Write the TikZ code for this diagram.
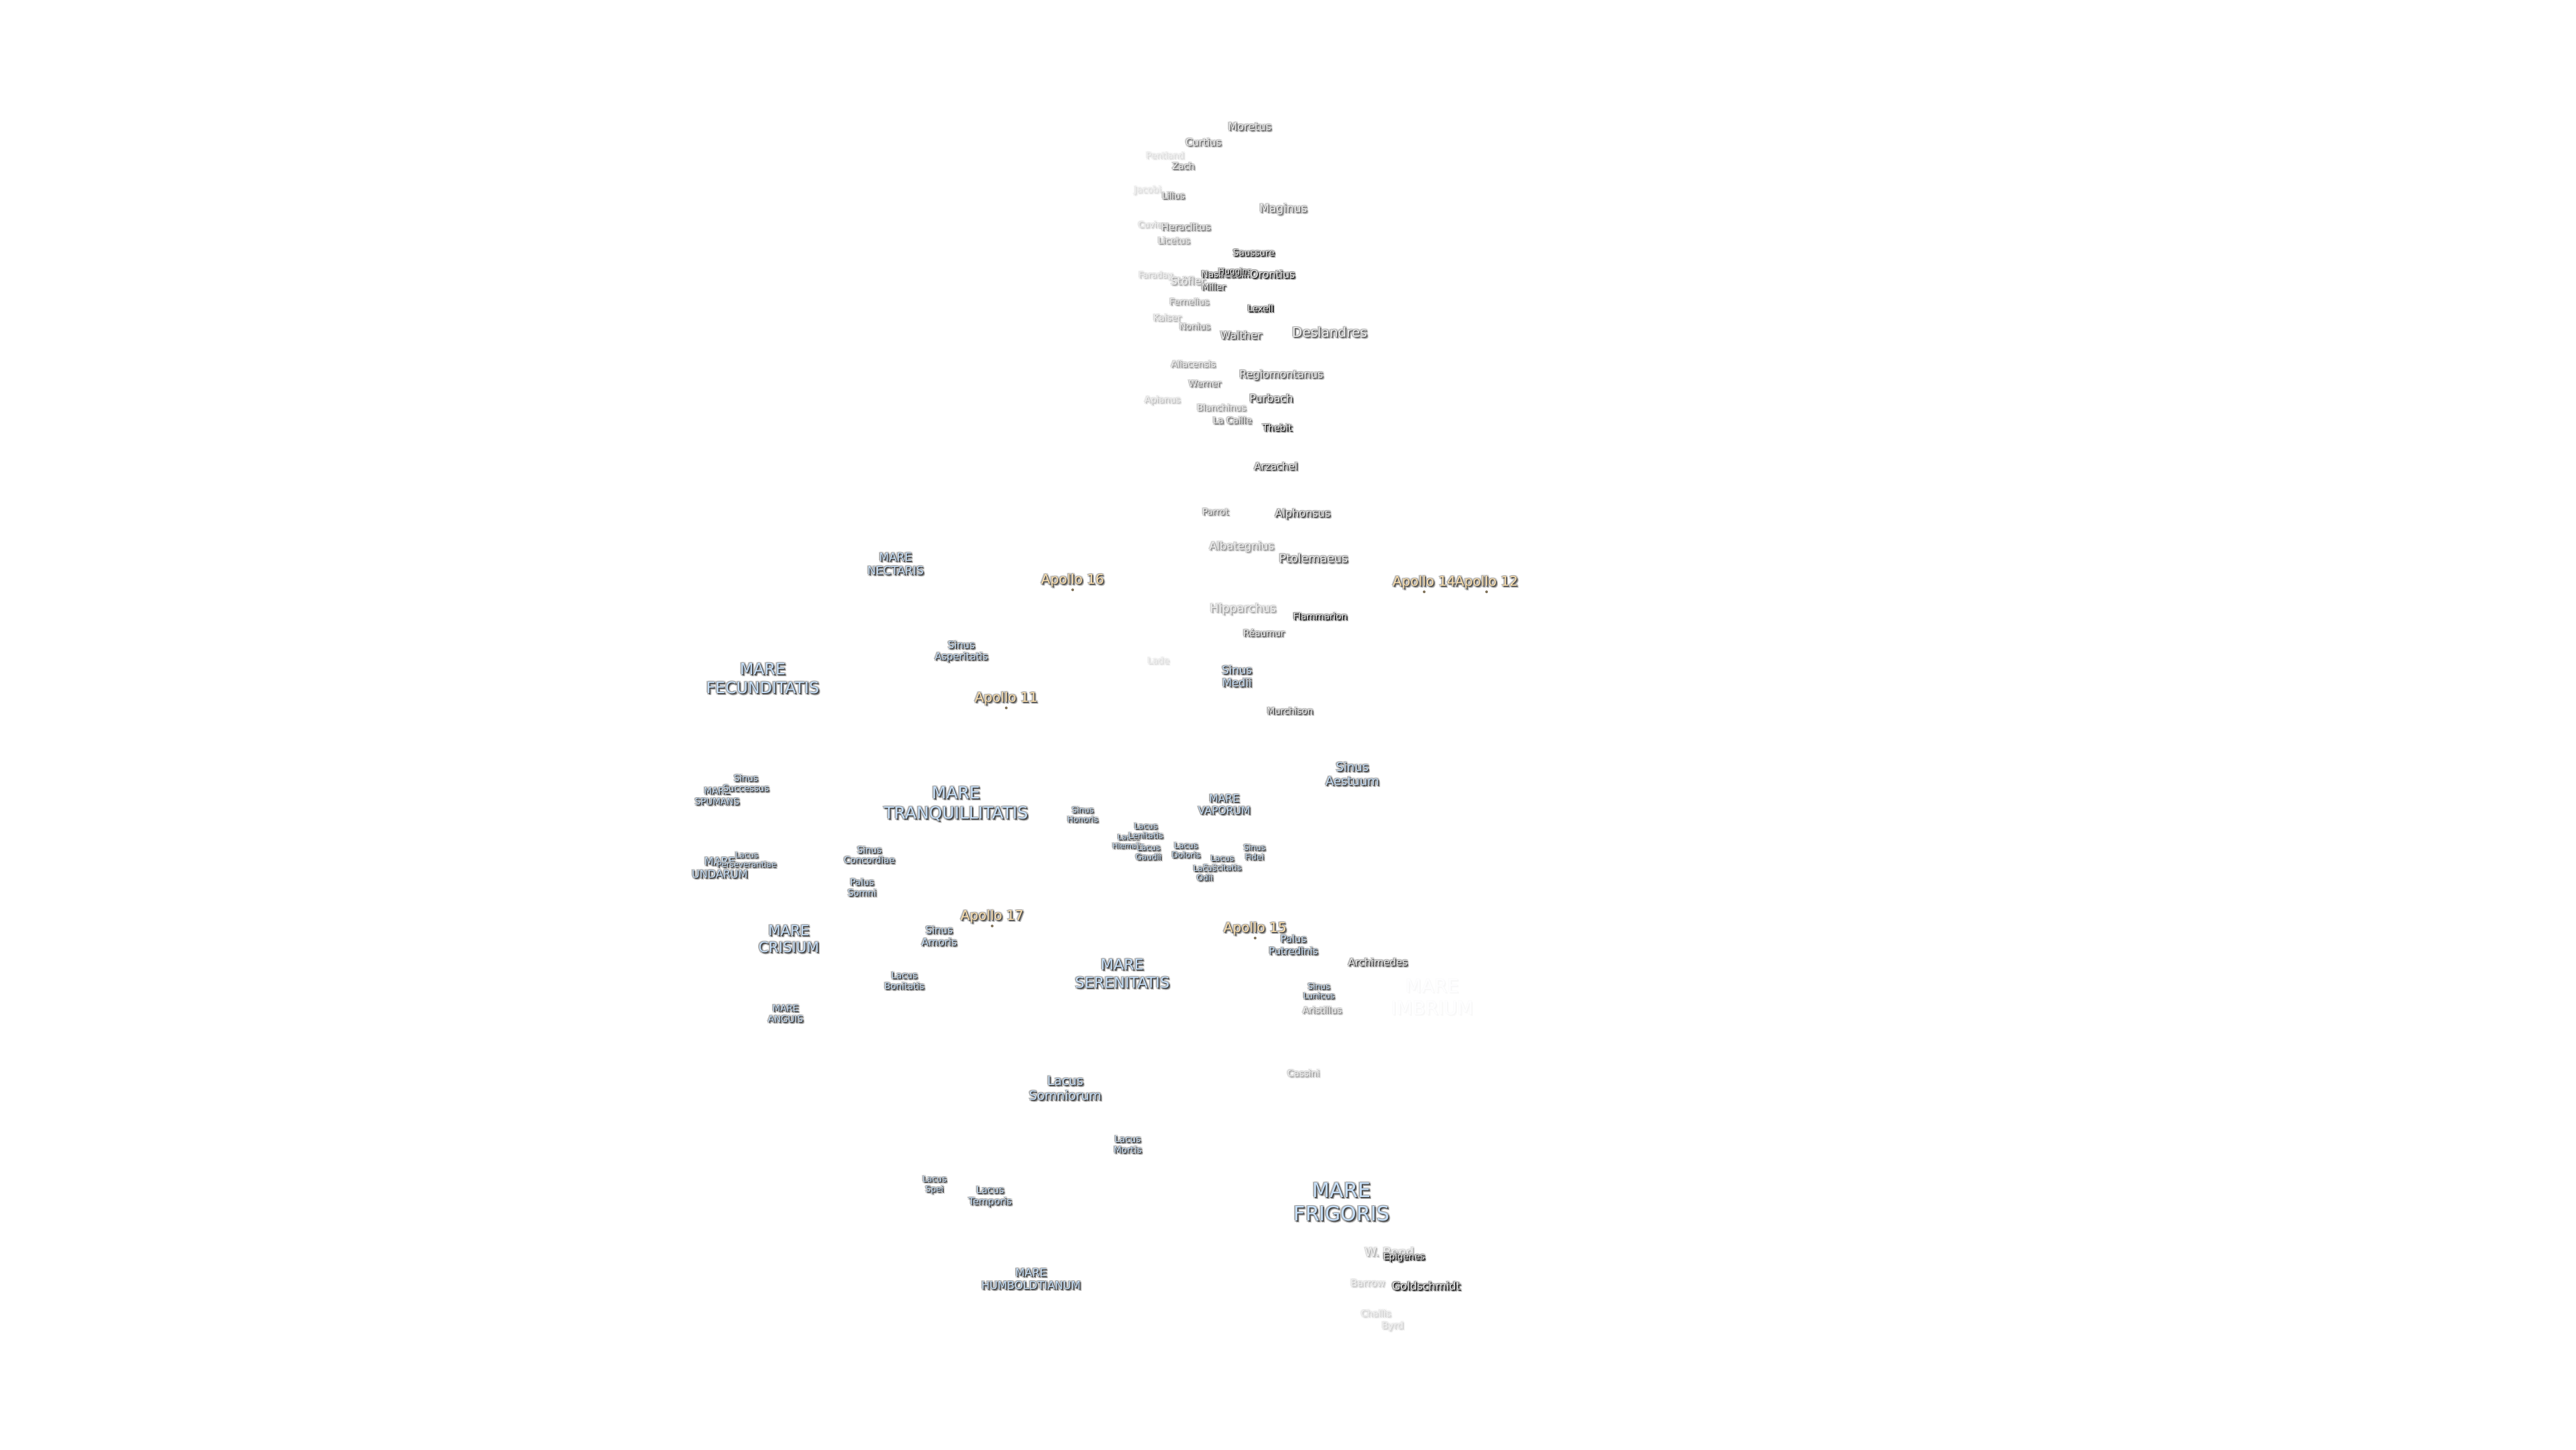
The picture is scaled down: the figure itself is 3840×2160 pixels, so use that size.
\documentclass[tikz,border=0pt]{standalone}
\usepackage{fontspec}
\setmainfont{DejaVu Sans}
\definecolor{mareblue}{HTML}{C6DFF8}
\definecolor{apollotan}{HTML}{FBDFAE}
\tikzset{moonlbl/.style={inner sep=0pt,align=center}}
\newcommand{\moonlbl}[7]{
\pgfmathsetmacro{\lsp}{#5*1.18}
\pgfmathtruncatemacro{\halo}{#6*0.3}
\pgfmathtruncatemacro{\edge}{#6*0.5}
\pgfmathtruncatemacro{\drop}{#6*0.75}
\foreach \dx/\dy [count=\n] in {-2/-1,2/-1,-1/2,3/3,3/1,1/3}{
	\node[moonlbl,font=\fontsize{#5}{\lsp}\selectfont,text=black!\halo!white] (#2-h\n) at (#3+\dx,#4+\dy) {#7};
}
\foreach \dx/\dy [count=\n] in {-1/0,0/-1}{
	\node[moonlbl,font=\fontsize{#5}{\lsp}\selectfont,text=black!\edge!white] (#2-e\n) at (#3+\dx,#4+\dy) {#7};
}
\node[moonlbl,font=\fontsize{#5}{\lsp}\selectfont,text=black!\drop!white] (#2-d) at (#3+2,#4+2) {#7};
\node[moonlbl,font=\fontsize{#5}{\lsp}\selectfont,text=black!#6!white] (#2-s) at (#3+1,#4+1) {#7};
\node[moonlbl,font=\fontsize{#5}{\lsp}\selectfont,text=#1] (#2) at (#3,#4) {#7};}
\newcommand{\crater}[5]{\moonlbl{black!6!white}{#1}{#2}{#3}{#4}{#5}}
\newcommand{\mare}[5]{\moonlbl{mareblue}{#1}{#2}{#3}{#4}{78}{#5}}
\newcommand{\apollo}[3]{
\node[circle,fill=black!50!apollotan,inner sep=0pt,minimum size=4pt] (#1-dot) at (#2,#3) {};
\moonlbl{apollotan}{#1}{#2}{#3-14}{20}{72}{\csname apollo#1\endcsname}}
\newcommand{\apolloA}{Apollo 11}
\newcommand{\apolloB}{Apollo 12}
\newcommand{\apolloD}{Apollo 14}
\newcommand{\apolloE}{Apollo 15}
\newcommand{\apolloF}{Apollo 16}
\newcommand{\apolloG}{Apollo 17}

\begin{document}
\begin{tikzpicture}[x=1pt,y=-1pt]
\fill[white] (0,0) rectangle (3840,2160);
\useasboundingbox (0,0) rectangle (3840,2160);
\begin{scope}[shift={(-1,1)}]

% faint ones first
\moonlbl{white!98!mareblue}{imbrium}{2136}{1485}{27.7}{3}{MARE\\IMBRIUM}
\crater{pentland}{1738}{231}{13}{14}{Pentland}
\crater{jacobi}{1712}{283}{13.5}{14}{Jacobi}
\crater{cuvier}{1718}{334}{12.5}{22}{Cuvier}
\crater{faraday}{1724}{410}{12.8}{22}{Faraday}
\crater{lade}{1728}{984}{13.3}{14}{Lade}
\crater{apianus}{1734}{596}{13.3}{25}{Apianus}
\crater{barrow}{2040}{1911}{14.6}{22}{Barrow}
\crater{challis}{2052}{1956}{13.5}{18}{Challis}
\crater{byrd}{2077}{1976}{14}{18}{Byrd}
\crater{wbond}{2072}{1865}{18}{30}{W. Bond}
\crater{kaiser}{1741}{472}{13.5}{30}{Kaiser}
\crater{stofler}{1772}{418}{15.7}{36}{Stöfler}

% craters
\crater{moretus}{1864}{188}{16}{62}{Moretus}
\crater{curtius}{1795}{211}{15}{56}{Curtius}
\crater{zach}{1765}{246}{13.5}{56}{Zach}
\crater{lilius}{1750}{291}{13.3}{56}{Lilius}
\crater{maginus}{1914}{311}{17}{56}{Maginus}
\crater{heraclitus}{1769}{337}{14.5}{52}{Heraclitus}
\crater{licetus}{1751}{357}{13.5}{42}{Licetus}
\crater{saussure}{1870}{376}{13.5}{88}{Saussure}
\crater{nasireddin}{1828}{407}{13.5}{88}{Nasireddin}
\crater{huggins}{1842}{404}{12}{92}{Huggins}
\crater{orontius}{1898}{408}{15.7}{88}{Orontius}
\crater{miller}{1810}{427}{13.2}{75}{Miller}
\crater{fernelius}{1774}{449}{13.1}{42}{Fernelius}
\crater{lexell}{1880}{458}{13.4}{96}{Lexell}
\crater{nonius}{1782}{485}{13.4}{48}{Nonius}
\crater{walther}{1851}{499}{16}{66}{Walther}
\crater{deslandres}{1983}{494}{20}{66}{Deslandres}
\crater{aliacensis}{1780}{542}{13.3}{42}{Aliacensis}
\crater{regiomontanus}{1911}{558}{16}{66}{Regiomontanus}
\crater{werner}{1797}{571}{13.4}{52}{Werner}
\crater{purbach}{1896}{593}{16}{75}{Purbach}
\crater{blanchinus}{1822}{606}{13.4}{42}{Blanchinus}
\crater{lacaille}{1838}{625}{13.6}{56}{La Caille}
\crater{thebit}{1905}{636}{13.9}{88}{Thebit}
\crater{arzachel}{1903}{694}{15}{75}{Arzachel}
\crater{parrot}{1813}{762}{13.3}{52}{Parrot}
\crater{alphonsus}{1943}{765}{16}{75}{Alphonsus}
\crater{albategnius}{1852}{814}{16.3}{42}{Albategnius}
\crater{ptolemaeus}{1959}{831}{17.5}{70}{Ptolemaeus}
\crater{hipparchus}{1854}{907}{17.4}{36}{Hipparchus}
\crater{flammarion}{1969}{917}{13.5}{92}{Flammarion}
\crater{reaumur}{1885}{942}{13.5}{66}{Réaumur}
\crater{murchison}{1924}{1058}{13.4}{70}{Murchison}
\crater{archimedes}{2055}{1433}{15}{75}{Archimedes}
\crater{aristillus}{1972}{1504}{13.6}{46}{Aristillus}
\crater{cassini}{1944}{1598}{13.5}{36}{Cassini}
\crater{goldschmidt}{2127}{1915}{16.2}{92}{Goldschmidt}
\crater{epigenes}{2094}{1873}{13.5}{96}{Epigenes}

% maria, lakes and bays
\mare{nectaris}{1336}{839}{17}{MARE\\NECTARIS}
\mare{asperitatis}{1434}{970}{14.8}{Sinus\\Asperitatis}
\mare{fecunditatis}{1138}{1010}{23.6}{MARE\\FECUNDITATIS}
\mare{medii}{1845}{1007}{16.5}{Sinus\\Medii}
\mare{aestuum}{2017}{1152}{18}{Sinus\\Aestuum}
\mare{spumans}{1070}{1186}{13.5}{MARE\\SPUMANS}
\mare{successus}{1113}{1166}{13.2}{Sinus\\Successus}
\mare{tranquillitatis}{1426}{1197}{25}{MARE\\TRANQUILLITATIS}
\mare{undarum}{1074}{1292}{16}{MARE\\UNDARUM}
\mare{perseverantiae}{1114}{1280}{11.8}{Lacus\\Perseverantiae}
\mare{concordiae}{1297}{1273}{13.4}{Sinus\\Concordiae}
\mare{somni}{1286}{1321}{13.5}{Palus\\Somni}
\mare{amoris}{1401}{1394}{15}{Sinus\\Amoris}
\mare{crisium}{1177}{1398}{21.4}{MARE\\CRISIUM}
\mare{bonitatis}{1349}{1461}{13.5}{Lacus\\Bonitatis}
\mare{anguis}{1172}{1510}{13.5}{MARE\\ANGUIS}
\mare{honoris}{1615}{1213}{12}{Sinus\\Honoris}
\mare{vaporum}{1826}{1198}{15.6}{MARE\\VAPORUM}
\mare{hiemalis}{1683}{1253}{11}{Lacus\\Hiemalis}
\mare{gaudii}{1713}{1269}{12}{Lacus\\Gaudii}
\mare{lenitatis}{1709}{1237}{12}{Lacus\\Lenitatis}
\mare{doloris}{1769}{1266}{12.2}{Lacus\\Doloris}
\mare{fidei}{1871}{1269}{12}{Sinus\\Fidei}
\mare{felicitatis}{1823}{1285}{12}{Lacus\\Felicitatis}
\mare{odii}{1797}{1300}{12}{Lacus\\Odii}
\mare{serenitatis}{1674}{1450}{22.3}{MARE\\SERENITATIS}
\mare{putredinis}{1929}{1407}{14.7}{Palus\\Putredinis}
\mare{lunicus}{1967}{1476}{12.2}{Sinus\\Lunicus}
\mare{somniorum}{1589}{1621}{18.7}{Lacus\\Somniorum}
\mare{mortis}{1682}{1705}{13.5}{Lacus\\Mortis}
\mare{spei}{1394}{1765}{12.3}{Lacus\\Spei}
\mare{temporis}{1477}{1782}{14.3}{Lacus\\Temporis}
\mare{humboldtianum}{1538}{1905}{16.3}{MARE\\HUMBOLDTIANUM}
\mare{frigoris}{2001}{1790}{30}{MARE\\FRIGORIS}

% landing sites
\apollo{A}{1501}{1054}
\apollo{B}{2217}{881}
\apollo{D}{2124}{881}
\apollo{E}{1872}{1397}
\apollo{F}{1600}{878}
\apollo{G}{1480}{1379}

\end{scope}
\end{tikzpicture}
\end{document}
